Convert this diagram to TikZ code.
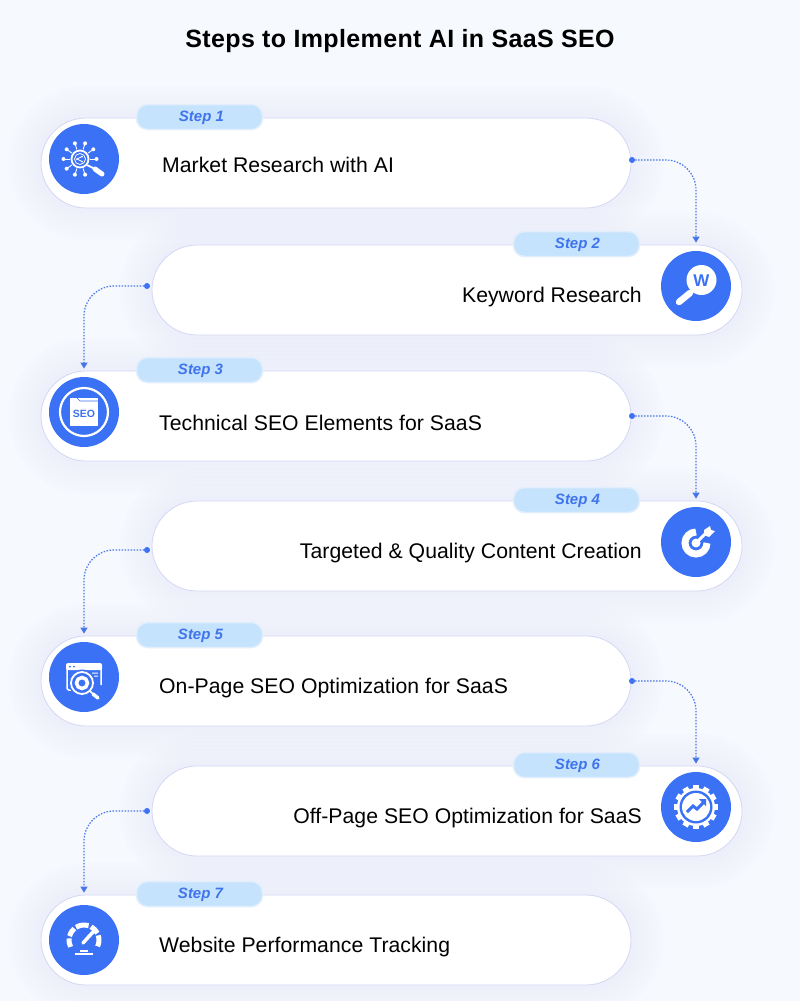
\documentclass[tikz,border=0pt]{standalone}
\usepackage{fontspec}
\setmainfont{Liberation Sans}
\usetikzlibrary{arrows.meta,backgrounds}
\definecolor{pagebg}{HTML}{F6F9FE}
\definecolor{glowc}{HTML}{D9DCFA}
\definecolor{edgec}{HTML}{D3D7F4}
\definecolor{ballc}{HTML}{3A71F5}
\definecolor{tagc}{HTML}{C6E3FD}
\definecolor{tagedge}{HTML}{E3EEFD}
\definecolor{tagtext}{HTML}{3F74EC}
\definecolor{linkc}{HTML}{4A76E6}
\tikzset{
  stepcard/.style={draw=edgec,line width=.8pt,fill=white,rounded corners=45pt,minimum width=590pt,minimum height=90pt,inner sep=0pt},
  stepball/.style={circle,fill=ballc,minimum size=70pt,inner sep=0pt},
  steptag/.style={draw=tagedge,line width=1.5pt,fill=tagc,rounded corners=11pt,minimum width=126pt,minimum height=25pt,inner sep=0pt},
  tagword/.style={inner sep=0pt,text=tagtext,font=\fontsize{15}{17}\selectfont\bfseries\itshape},
  steptext/.style={inner sep=0pt,font=\fontsize{21.2}{24}\selectfont\addfontfeatures{LetterSpace=.2}},
  linkdot/.style={circle,fill=ballc,minimum size=6pt,inner sep=0pt},
  flow/.style={draw=linkc,line width=1.2pt,dash pattern=on 1.5pt off 1.5pt,rounded corners=30pt,-{Triangle[length=6pt,width=7pt,fill=ballc]}},
  icon/.style={white,line width=1.5pt}
}
\begin{document}
\begin{tikzpicture}[x=1pt,y=1pt]
\useasboundingbox (0,0) rectangle (800,-1001);
%% title
\node[inner sep=0pt,font=\fontsize{25}{29}\selectfont\bfseries\addfontfeatures{LetterSpace=1.5}] (title) at (400,-41) {Steps to Implement AI in SaaS SEO};
%% cards
\node[stepcard] (card1) at (336,-163) {};
\node[stepcard] (card2) at (447,-290) {};
\node[stepcard] (card3) at (336,-416) {};
\node[stepcard] (card4) at (447,-546) {};
\node[stepcard] (card5) at (336,-681) {};
\node[stepcard] (card6) at (447,-811) {};
\node[stepcard] (card7) at (336,-940) {};
%% tags
\node[steptag] (tag1) at (199.5,-117) {};
\node[steptag] (tag2) at (576.5,-244) {};
\node[steptag] (tag3) at (199.5,-370) {};
\node[steptag] (tag4) at (576.5,-500) {};
\node[steptag] (tag5) at (199.5,-635) {};
\node[steptag] (tag6) at (576.5,-765) {};
\node[steptag] (tag7) at (199.5,-894) {};
\node[tagword] (word1) at (201.5,-118) {Step 1};
\node[tagword] (word2) at (577.5,-245) {Step 2};
\node[tagword] (word3) at (200.5,-371) {Step 3};
\node[tagword] (word4) at (577.5,-501) {Step 4};
\node[tagword] (word5) at (200.5,-636) {Step 5};
\node[tagword] (word6) at (577.5,-766) {Step 6};
\node[tagword] (word7) at (200.5,-895) {Step 7};
%% icon circles
\node[stepball] (ball1) at (84,-159) {};
\node[stepball] (ball2) at (696,-286) {};
\node[stepball] (ball3) at (84,-412) {};
\node[stepball] (ball4) at (696,-542) {};
\node[stepball] (ball5) at (84,-677) {};
\node[stepball] (ball6) at (696,-807) {};
\node[stepball] (ball7) at (84,-940) {};
%% labels
\node[steptext,anchor=west] (text1) at (162,-165) {Market Research with AI};
\node[steptext,anchor=east] (text2) at (642,-297) {Keyword Research};
\node[steptext,anchor=west] (text3) at (159,-423) {Technical SEO Elements for SaaS};
\node[steptext,anchor=east] (text4) at (642,-553) {Targeted \& Quality Content Creation};
\node[steptext,anchor=west] (text5) at (159,-688) {On-Page SEO Optimization for SaaS};
\node[steptext,anchor=east] (text6) at (642,-818) {Off-Page SEO Optimization for SaaS};
\node[steptext,anchor=west] (text7) at (159,-947) {Website Performance Tracking};
%% links
\node[linkdot] (dot1) at (632,-160) {};
\node[linkdot] (dot2) at (147,-286) {};
\node[linkdot] (dot3) at (632,-416) {};
\node[linkdot] (dot4) at (147,-550) {};
\node[linkdot] (dot5) at (632,-681) {};
\node[linkdot] (dot6) at (147,-811) {};
\draw[flow] (dot1.center) -| ([yshift=2pt]ball2 |- card2.north);
\draw[flow] (dot2.center) -| ([yshift=2pt]ball3 |- card3.north);
\draw[flow] (dot3.center) -| ([yshift=2pt]ball4 |- card4.north);
\draw[flow] (dot4.center) -| ([yshift=2pt]ball5 |- card5.north);
\draw[flow] (dot5.center) -| ([yshift=2pt]ball6 |- card6.north);
\draw[flow] (dot6.center) -| ([yshift=2pt]ball7 |- card7.north);
%% icon 1
\begin{scope}[shift={(ball1.center)}]
\draw[icon,line width=1.8pt] (-4,0) circle (8.5);
\draw[icon,line width=.8pt] (-4,0) circle (5.5);
\fill[white] (-7,0) circle (1) (-2,2.5) circle (1) (-2,-2.5) circle (1);
\draw[icon,line width=.7pt] (-7,0) -- (-2,2.5) (-7,0) -- (-2,-2.5);
\foreach \ang in {0,36,...,324}{
  \ifnum\ang=324\else
  \draw[icon,line width=.9pt] (-4,0) ++(\ang:10) -- ++(\ang:5);
  \fill[white] (-4,0) ++(\ang:16.5) circle (2);
  \fi}
\draw[white,line width=2pt] (3,-6) -- (9,-9);
\draw[white,line width=5pt,line cap=round] (11,-10) -- (18,-15);
\end{scope}
%% icon 2
\begin{scope}[shift={(ball2.center)}]
\fill[white] (5.5,6) circle (15);
\draw[white,line width=2.5pt] (-5,-5) -- (0,-1);
\draw[white,line width=6.5pt,line cap=round] (-17,-16) -- (-6,-7);
\node[inner sep=0pt,text=ballc,font=\fontsize{17}{17}\selectfont\bfseries] (wletter) at (5.5,5) {W};
\end{scope}
%% icon 3
\begin{scope}[shift={(ball3.center)}]
\draw[white,line width=2.2pt] (0,0) circle (24);
\fill[white] (-14,-14) rectangle (14,14);
\draw[ballc,line width=.7pt] (-7,14) -- (-4,11) -- (14,11);
\node[inner sep=0pt,text=ballc,font=\fontsize{10.5}{11}\selectfont\bfseries] (seoword) at (0,-2) {SEO};
\end{scope}
%% icon 4
\begin{scope}[shift={(ball4.center)}]
\draw[white,line width=7pt] (11,-1) arc (0:-270:11);
\fill[white] (0,-1) circle (4.5);
\draw[white,line width=3pt] (0,-1) -- (11,10);
\fill[white] (8,7) -- (13,5) -- (19,11) -- (15,12) -- (14,16) -- (8,12) -- cycle;
\end{scope}
%% icon 5
\begin{scope}[shift={(ball5.center)}]
\draw[icon,rounded corners=2pt] (-6,-13) -- (-17,-13) -- (-17,13) -- (17,13) -- (17,-8);
\fill[white,rounded corners=2pt] (-18,14) rectangle (18,7);
\fill[ballc] (-14,10.5) circle (1) (-10,10.5) circle (1);
\fill[white] (8,4.5) rectangle (14,3.5) (10,1.5) rectangle (14,.5);
\fill[ballc] (-2,-6) circle (13.5);
\draw[white,line width=1.8pt] (-2,-6) circle (11);
\draw[white,line width=3.5pt] (-2,-6) circle (5.5);
\draw[white,line width=1.5pt] (6,-14) -- (9,-17);
\draw[white,line width=3.5pt,line cap=round] (9,-17) -- (14,-21);
\end{scope}
%% icon 6
\begin{scope}[shift={(ball6.center)}]
\fill[white] (0,0) circle (19);
\foreach \ang in {0,30,...,330}{
  \fill[white,rotate=\ang] (18,-3) rectangle (22,3);}
\fill[ballc] (0,0) circle (16.5);
\fill[white] (0,0) circle (14);
\draw[ballc,line width=3pt] (-9,-5) -- (-3,1) -- (1,-2) -- (8,5);
\fill[ballc] (10,8) -- (10,1) -- (3,8) -- cycle;
\end{scope}
%% icon 7
\begin{scope}[shift={(ball7.center)}]
\foreach \fromang/\toang in {-25/18,27/62,72/122,130/165,174/207}{
  \draw[white,line width=5pt] (0,0) ++(\fromang:15) arc (\fromang:\toang:15);}
\draw[white,line width=3.5pt,line cap=round] (-1,-3) -- (9,8);
\draw[white,line width=2.5pt] (-9,-14) -- (9,-14);
\draw[white,line width=2pt] (-4,-11) -- (4,-11);
\end{scope}
%% page and glow
\begin{scope}[on background layer]
\fill[pagebg] (0,0) rectangle (800,-1001);
\foreach \gap in {32,28,...,4}{
  \pgfmathsetmacro{\rad}{45+\gap}
  \foreach \cardname in {card1,card2,card3,card4,card5,card6,card7}{
    \fill[glowc,opacity=.035,rounded corners=\rad pt] ([xshift=-\gap pt,yshift=\gap pt]\cardname.north west) rectangle ([xshift=\gap pt,yshift=-\gap pt]\cardname.south east);}}
\end{scope}
\end{tikzpicture}
\end{document}
